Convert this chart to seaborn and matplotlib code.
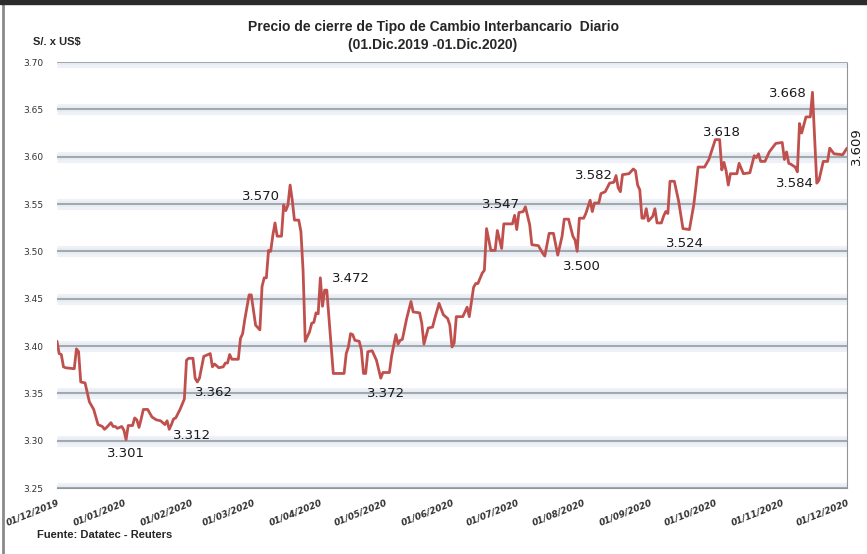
"""
    Tipo de cambio interbancario diario (S/. x US$)
    01.Dic.2019 - 01.Dic.2020
"""

import pandas as pd
import matplotlib.pyplot as plt
from matplotlib.patches import Rectangle
from matplotlib.lines import Line2D
import seaborn as sns

# Días transcurridos desde el 01/12/2019 y precio de cierre
dias = [0, 1, 2, 3, 4, 8, 9, 10, 11, 13, 15, 17, 19, 21, 22, 23, 25, 26, 27, 28,
        30, 31, 32, 33, 35, 36, 37, 38, 39, 40, 42, 44, 46, 48, 50, 51, 52, 53, 54, 55,
        57, 59, 60, 61, 63, 64, 65, 66, 68, 70, 71, 72, 73, 75, 77, 78, 79, 80, 81, 84,
        85, 86, 87, 89, 90, 92, 94, 95, 96, 97, 98, 99, 100, 101, 102, 104, 105, 106, 107, 108,
        109, 110, 112, 113, 114, 115, 117, 118, 119, 120, 121, 122, 123, 124, 125, 128, 133, 134, 135, 136,
        137, 138, 140, 141, 142, 143, 144, 146, 148, 150, 151, 154, 155, 157, 158, 159, 160, 162, 163, 164,
        165, 168, 169, 170, 172, 174, 175, 177, 179, 181, 182, 183, 184, 185, 188, 190, 191, 193, 194, 195,
        197, 198, 199, 201, 203, 204, 206, 207, 211, 212, 213, 214, 216, 217, 219, 220, 223, 225, 226, 228,
        230, 232, 234, 235, 237, 239, 240, 241, 242, 244, 245, 247, 248, 249, 251, 252, 254, 256, 258, 259,
        260, 261, 262, 265, 267, 268, 269, 270, 271, 272, 273, 274, 276, 277, 278, 280, 281, 282, 283, 284,
        286, 288, 290, 293, 295, 296, 297, 298, 300, 302, 303, 305, 307, 308, 309, 310, 311, 312, 315, 316,
        318, 321, 323, 324, 325, 326, 328, 330, 332, 333, 336, 337, 338, 339, 340, 342, 343, 344, 345, 347,
        349, 350, 352, 353, 355, 357, 358, 360, 364, 366]

valores = [3.405, 3.392, 3.391, 3.378, 3.377, 3.376, 3.397, 3.394, 3.362, 3.361,
           3.341, 3.333, 3.317, 3.315, 3.312, 3.314, 3.319, 3.315, 3.315, 3.313,
           3.315, 3.311, 3.301, 3.316, 3.316, 3.324, 3.322, 3.314, 3.323, 3.333,
           3.333, 3.325, 3.322, 3.321, 3.317, 3.321, 3.312, 3.317, 3.323, 3.324,
           3.333, 3.344, 3.385, 3.387, 3.387, 3.366, 3.362, 3.366, 3.389, 3.391,
           3.392, 3.378, 3.381, 3.377, 3.378, 3.382, 3.382, 3.391, 3.386, 3.386,
           3.408, 3.413, 3.428, 3.454, 3.454, 3.422, 3.417, 3.463, 3.472, 3.472,
           3.501, 3.500, 3.517, 3.530, 3.516, 3.516, 3.549, 3.543, 3.549, 3.570,
           3.554, 3.533, 3.533, 3.521, 3.480, 3.405, 3.415, 3.424, 3.425, 3.435,
           3.434, 3.472, 3.442, 3.459, 3.459, 3.371, 3.371, 3.392, 3.399, 3.413,
           3.412, 3.406, 3.405, 3.396, 3.371, 3.371, 3.394, 3.395, 3.385, 3.366,
           3.372, 3.372, 3.389, 3.412, 3.402, 3.406, 3.407, 3.429, 3.438, 3.447,
           3.436, 3.435, 3.424, 3.402, 3.419, 3.420, 3.429, 3.445, 3.433, 3.429,
           3.422, 3.399, 3.403, 3.431, 3.431, 3.441, 3.431, 3.462, 3.466, 3.466,
           3.477, 3.480, 3.524, 3.501, 3.501, 3.522, 3.503, 3.529, 3.529, 3.538,
           3.523, 3.541, 3.542, 3.547, 3.528, 3.507, 3.506, 3.498, 3.495, 3.519,
           3.519, 3.496, 3.516, 3.534, 3.534, 3.516, 3.512, 3.500, 3.535, 3.535,
           3.540, 3.554, 3.542, 3.551, 3.551, 3.561, 3.563, 3.572, 3.573, 3.580,
           3.567, 3.563, 3.581, 3.582, 3.587, 3.585, 3.570, 3.565, 3.535, 3.535,
           3.545, 3.532, 3.537, 3.545, 3.530, 3.530, 3.537, 3.542, 3.540, 3.574,
           3.574, 3.553, 3.524, 3.523, 3.549, 3.568, 3.589, 3.589, 3.589, 3.597,
           3.604, 3.618, 3.618, 3.586, 3.594, 3.585, 3.570, 3.582, 3.582, 3.593,
           3.582, 3.583, 3.601, 3.599, 3.603, 3.595, 3.595, 3.605, 3.611, 3.614,
           3.615, 3.597, 3.605, 3.593, 3.592, 3.589, 3.584, 3.635, 3.625, 3.642,
           3.642, 3.668, 3.572, 3.575, 3.595, 3.595, 3.609, 3.603, 3.602, 3.609]

# Etiquetas de valores destacados: (texto, día, valor, rotación)
etiquetas = [
    ("3.301", 32.0, 3.286, 0),
    ("3.312", 62.4, 3.305, 0),
    ("3.362", 72.7, 3.351, 0),
    ("3.570", 94.6, 3.558, 0),
    ("3.472", 136.2, 3.471, 0),
    ("3.372", 152.6, 3.350, 0),
    ("3.547", 205.7, 3.549, 0),
    ("3.582", 248.8, 3.580, 0),
    ("3.500", 243.2, 3.484, 0),
    ("3.524", 290.9, 3.508, 0),
    ("3.618", 308.1, 3.626, 0),
    ("3.668", 338.4, 3.667, 0),
    ("3.584", 341.8, 3.572, 0),
    ("3.609", 370.2, 3.611, 90),
]

Y_TICKS = [3.25, 3.30, 3.35, 3.40, 3.45, 3.50, 3.55, 3.60, 3.65, 3.70]
INICIO = pd.Timestamp("2019-12-01")
FIN = pd.Timestamp("2020-12-01")
FUENTE_TITULO = ["Liberation Sans", "DejaVu Sans"]

sns.set_style("white")
plt.rcParams['font.family'] = ['DejaVu Sans']

fechas = INICIO + pd.to_timedelta(dias, unit="D")
df = pd.DataFrame({"fecha": fechas, "valor": valores})

fig = plt.figure(figsize=(8.67, 5.54), dpi=100)
ax = fig.add_axes([57 / 867, 1 - 488 / 554, 790 / 867, 426 / 554])

# Líneas de grilla con sombra suave
for y in Y_TICKS:
    ax.axhline(y, color="#eef2f8", lw=8, zorder=0, solid_capstyle="butt")
    ax.axhline(y, color="#e6ecf4", lw=4, zorder=0, solid_capstyle="butt")
    ax.axhline(y, color="#929496", lw=1.1, zorder=1)

sns.lineplot(data=df, x="fecha", y="valor", ax=ax, estimator=None, sort=False,
             color="#c0504d", lw=2, zorder=3)

ax.set_xlim(INICIO, FIN)
ax.set_ylim(3.25, 3.70)
ax.set_xlabel("")
ax.set_ylabel("")

ax.set_yticks(Y_TICKS)
ax.set_yticklabels([f"{v:.2f}" for v in Y_TICKS], fontsize=6.5, color="#333333")
ax.tick_params(axis="y", length=0, pad=10)

meses = pd.date_range(INICIO, FIN, freq="MS")
ax.set_xticks(meses)
ax.set_xticklabels([m.strftime("%d/%m/%Y") for m in meses], rotation=22, ha="right",
                   fontsize=6.5, fontweight="bold", fontstyle="italic", color="#333333",
                   rotation_mode="anchor")
ax.tick_params(axis="x", length=3, color="#929496", direction="out", pad=4)

for lado in ["left", "top"]:
    ax.spines[lado].set_visible(False)
ax.spines["bottom"].set_color("#929496")
ax.spines["right"].set_color("#929496")
ax.spines["right"].set_linestyle((0, (1, 1)))

for texto, d, v, rot in etiquetas:
    ax.text(INICIO + pd.Timedelta(days=d), v, texto, ha="center", va="center",
            fontsize=9.5, rotation=rot, color="#1a1a1a", zorder=4, clip_on=False)

fig.text(433 / 867, 1 - 27 / 554, "Precio de cierre de Tipo de Cambio Interbancario  Diario",
         ha="center", va="center", fontsize=10, fontweight="bold", family=FUENTE_TITULO)
fig.text(433 / 867, 1 - 45 / 554, "(01.Dic.2019 -01.Dic.2020)",
         ha="center", va="center", fontsize=10, fontweight="bold", family=FUENTE_TITULO)
fig.text(33 / 867, 1 - 42 / 554, "S/. x US$", ha="left", va="center", fontsize=8,
         fontweight="bold", family=FUENTE_TITULO)
fig.text(37 / 867, 1 - 535 / 554, "Fuente: Datatec - Reuters", ha="left", va="center",
         fontsize=8, fontweight="bold", family=FUENTE_TITULO)

# Marco de la ventana
fig.patches.append(Rectangle((0, 1 - 4 / 554), 1, 4 / 554, transform=fig.transFigure,
                             color="#2b2b2b", zorder=10))
fig.lines.append(Line2D([2.5 / 867, 2.5 / 867], [0, 1], transform=fig.transFigure,
                        color="#8a8a8a", lw=2))

plt.savefig("out.png", dpi=100)
plt.close()
